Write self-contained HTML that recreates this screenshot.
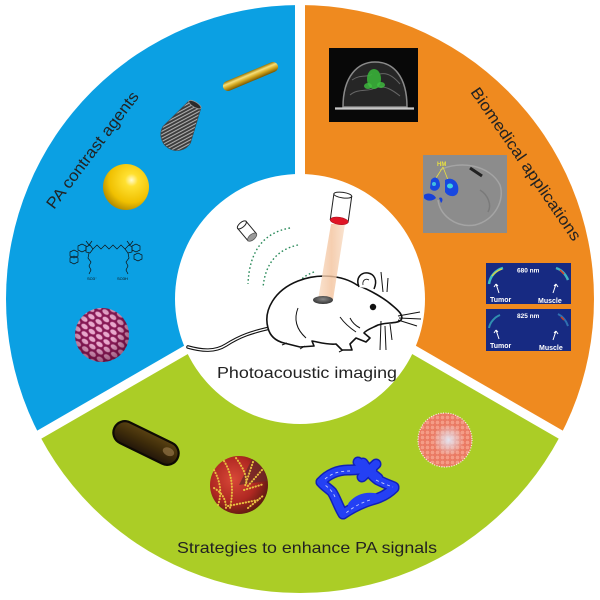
<!DOCTYPE html>
<html><head><meta charset="utf-8"><style>
html,body{margin:0;padding:0;background:#fff;}
svg{display:block;}
text{font-family:"Liberation Sans",Arial,sans-serif;}
</style></head><body>
<svg width="600" height="600" viewBox="0 0 600 600" xmlns="http://www.w3.org/2000/svg">
<defs>
<clipPath id="outer"><circle cx="300" cy="299" r="294"/></clipPath>
<linearGradient id="goldrod" x1="0" y1="0" x2="0" y2="1">
<stop offset="0" stop-color="#9a7500"/><stop offset="0.3" stop-color="#f6e07a"/><stop offset="0.6" stop-color="#d4a820"/><stop offset="1" stop-color="#7a5800"/>
</linearGradient>
<radialGradient id="ysph" cx="0.62" cy="0.35" r="0.7">
<stop offset="0" stop-color="#fffbd0"/><stop offset="0.2" stop-color="#ffe030"/><stop offset="0.7" stop-color="#f0c000"/><stop offset="1" stop-color="#b08800"/>
</radialGradient>
<pattern id="stripes" patternUnits="userSpaceOnUse" width="3" height="3" patternTransform="rotate(31)">
<rect width="3" height="3" fill="#3a3a3a"/><line x1="1.2" y1="0" x2="1.2" y2="3" stroke="#c8c8c8" stroke-width="0.9"/>
</pattern>
<pattern id="rasp" patternUnits="userSpaceOnUse" width="9" height="12" patternTransform="rotate(35)">
<rect width="9" height="12" fill="#861a55"/>
<ellipse cx="4.5" cy="3" rx="3.9" ry="2.5" fill="#e8a8cc" stroke="#9a2a68" stroke-width="0.6"/>
<ellipse cx="0" cy="9" rx="3.9" ry="2.5" fill="#e8a8cc" stroke="#9a2a68" stroke-width="0.6"/>
<ellipse cx="9" cy="9" rx="3.9" ry="2.5" fill="#e8a8cc" stroke="#9a2a68" stroke-width="0.6"/>
</pattern>
<radialGradient id="shade" cx="0.45" cy="0.4" r="0.6">
<stop offset="0.5" stop-color="#400020" stop-opacity="0"/><stop offset="1" stop-color="#400020" stop-opacity="0.45"/>
</radialGradient>
<linearGradient id="brown" x1="0" y1="0" x2="0" y2="1">
<stop offset="0" stop-color="#5a4212"/><stop offset="0.5" stop-color="#3e2c0a"/><stop offset="1" stop-color="#22160a"/>
</linearGradient>
<radialGradient id="redg" cx="0.4" cy="0.4" r="0.65">
<stop offset="0" stop-color="#d84838"/><stop offset="0.6" stop-color="#b02822"/><stop offset="1" stop-color="#5a1a10"/>
</radialGradient>
<pattern id="pinkp" patternUnits="userSpaceOnUse" width="5" height="5">
<rect width="5" height="5" fill="#ec7a62"/><circle cx="2.5" cy="2.5" r="2.2" fill="#f59c86" stroke="#e06a55" stroke-width="0.4"/>
</pattern>
<radialGradient id="pinkhl" cx="0.55" cy="0.5" r="0.5">
<stop offset="0" stop-color="#e4e4f0" stop-opacity="1"/><stop offset="0.5" stop-color="#e4e4f0" stop-opacity="0.5"/><stop offset="1" stop-color="#e4e4f0" stop-opacity="0"/>
</radialGradient>
<linearGradient id="beam" x1="0" y1="0" x2="1" y2="0">
<stop offset="0" stop-color="#f8dcc4"/><stop offset="0.5" stop-color="#f3c29c"/><stop offset="1" stop-color="#f8dcc4"/>
</linearGradient>
<radialGradient id="hole" cx="0.5" cy="0.4" r="0.6">
<stop offset="0" stop-color="#888"/><stop offset="1" stop-color="#333"/>
</radialGradient>
</defs>

<rect width="600" height="600" fill="#fff"/>
<g clip-path="url(#outer)">
<polygon points="300,-10 300,284 -60,492 -10,-10" fill="#0ba0e3"/>
<polygon points="300,-10 610,-10 660,492 300,284" fill="#ef8a1f"/>
<polygon points="300,284 660,492 610,610 -10,610 -60,492" fill="#abcd26"/>
</g>
<g stroke="#fff" stroke-width="9">
<line x1="300" y1="0" x2="300" y2="300" stroke-width="10"/>
<line x1="300" y1="284" x2="-60" y2="492"/>
<line x1="300" y1="284" x2="660" y2="492"/>
</g>
<circle cx="300" cy="299" r="125" fill="#fff"/>

<!-- Section labels -->
<text x="54" y="210" font-size="16" fill="#222" transform="rotate(-53 54 210)" textLength="142" lengthAdjust="spacingAndGlyphs">PA contrast agents</text>
<text x="470" y="92" font-size="16" fill="#222" transform="rotate(55.5 470 92)" textLength="182" lengthAdjust="spacingAndGlyphs">Biomedical applications</text>
<text x="217" y="378" font-size="16" fill="#222" textLength="180" lengthAdjust="spacingAndGlyphs">Photoacoustic imaging</text>
<text x="177" y="553" font-size="16" fill="#222" textLength="260" lengthAdjust="spacingAndGlyphs">Strategies to enhance PA signals</text>

<!-- Blue sector items -->
<g transform="translate(250.5,76.5) rotate(-22.9)">
<rect x="-29.5" y="-5" width="59" height="10" rx="5" fill="url(#goldrod)"/>
</g>
<g transform="translate(182,126) rotate(31)">
<path d="M-7,-25 L-16,10 A16,16 0 0 0 16,10 L7,-25 Z" fill="url(#stripes)" stroke="#444" stroke-width="0.6"/>
<ellipse cx="0" cy="-25" rx="7" ry="2.6" fill="#2a2a2a" stroke="#999" stroke-width="0.8"/>
</g>
<circle cx="126" cy="187" r="23" fill="url(#ysph)"/>

<g fill="none" stroke="#111" stroke-width="0.7">
<polygon points="70,252 74,250 78,252 78,256 74,258 70,256"/>
<polygon points="70,260 74,258 78,260 78,264 74,266 70,264" transform="translate(0,-2)"/>
<polygon points="78,252 82,250 86,252 86,256 82,258 78,256" transform="translate(0,-6)"/>
<polygon points="86,247 90,245 93,249 90,253 86,252"/>
<polyline points="93,249 97,245 101,249 105,245 109,249 113,245 117,249 121,245 125,249"/>
<polygon points="125,249 129,245 132,247 132,252 128,253"/>
<polygon points="132,246 136,244 140,246 140,250 136,252 132,250"/>
<polygon points="136,252 140,250 144,252 144,256 140,258 136,256" transform="translate(-2,3)"/>
<polyline points="89,253 88,258 91,262 89,266 91,270 89,274"/>
<polyline points="128,253 129,258 126,262 128,266 126,270 128,274"/>
<line x1="89" y1="245" x2="86" y2="241"/><line x1="89" y1="245" x2="92" y2="241"/>
<line x1="130" y1="245" x2="127" y2="241"/><line x1="130" y1="245" x2="133" y2="241"/>
</g>
<text x="87" y="280" font-size="4" fill="#111">SO3⁻</text>
<text x="117" y="280" font-size="4" fill="#111">SO3H</text>

<circle cx="102" cy="335" r="27" fill="url(#rasp)"/>
<circle cx="102" cy="335" r="27" fill="url(#shade)"/>

<!-- Orange sector images -->
<rect x="329" y="48" width="89" height="74" fill="#080808"/>
<path d="M343,107 C343,76 358,62 375,62 C393,62 407,76 407,107 Z" fill="#262626" stroke="#8a8a8a" stroke-width="1.5"/>
<path d="M350,95 C358,88 368,92 375,88 C385,84 395,92 400,96 M352,80 C360,74 368,78 372,74 M380,74 C388,72 395,78 400,84" fill="none" stroke="#666" stroke-width="1"/>
<ellipse cx="374" cy="79" rx="7" ry="10" fill="#38b038" opacity="0.9"/>
<ellipse cx="368" cy="86" rx="4" ry="3" fill="#40c040" opacity="0.8"/>
<ellipse cx="381" cy="85" rx="4" ry="3" fill="#40c040" opacity="0.8"/>
<line x1="335" y1="108.5" x2="414" y2="108.5" stroke="#c8c8c8" stroke-width="2.2"/>

<rect x="423" y="155" width="84" height="78" fill="#8c8c8c"/>
<path d="M440,170 C460,160 490,165 500,185 C505,200 495,220 475,225 C455,228 440,215 438,200" fill="none" stroke="#a4a4a4" stroke-width="1.5"/>
<path d="M470,168 L482,176" stroke="#222" stroke-width="3"/>
<path d="M480,190 C488,195 492,205 488,212" fill="none" stroke="#7a7a7a" stroke-width="1.5"/>
<text x="437" y="166" font-size="6" fill="#e8e040" font-weight="bold">HM</text>
<path d="M443,167 L436,178 M443,167 L448,180" stroke="#e8e040" stroke-width="0.8" fill="none"/>
<path d="M431,180 C435,175 440,178 440,186 C438,192 432,192 430,188 Z" fill="#1848e0"/>
<path d="M445,180 C452,176 460,182 458,192 C456,198 448,197 445,192 Z" fill="#1848e0"/>
<path d="M424,195 C428,192 434,194 436,198 C432,202 426,201 424,198 Z" fill="#1840d8"/>
<path d="M439,198 C442,196 444,200 441,203 Z" fill="#1840d8"/>
<ellipse cx="450" cy="186" rx="3" ry="2.5" fill="#40d0e0"/>
<ellipse cx="434" cy="184" rx="2" ry="2" fill="#40c0e0"/>

<rect x="486" y="263" width="85" height="41" fill="#172a82"/>
<rect x="486" y="309" width="85" height="42" fill="#172a82"/>
<path d="M489,284 C490,276 496,270 503,268" fill="none" stroke="#40c0c0" stroke-width="2.5"/>
<path d="M492,276 C495,272 499,270 502,269" fill="none" stroke="#e0d040" stroke-width="1.2"/>
<path d="M556,268 C562,270 566,275 568,280" fill="none" stroke="#40b0c0" stroke-width="2.5"/>
<path d="M560,270 L564,274" stroke="#e04020" stroke-width="1.5"/>
<path d="M489,328 C490,322 495,317 500,315" fill="none" stroke="#3090b0" stroke-width="2"/>
<path d="M558,314 C562,316 566,320 568,326" fill="none" stroke="#3070b0" stroke-width="2"/>
<path d="M561,317 L564,320" stroke="#d04020" stroke-width="1.5"/>
<g fill="#fff" font-weight="bold">
<text x="517" y="272.5" font-size="6.5">680 nm</text>
<text x="490" y="302" font-size="7">Tumor</text>
<text x="538" y="303" font-size="7">Muscle</text>
<text x="517" y="318" font-size="6.5">825 nm</text>
<text x="490" y="348" font-size="7">Tumor</text>
<text x="539" y="350" font-size="7">Muscle</text>
</g>
<g stroke="#fff" stroke-width="1" fill="none">
<path d="M499,293 L496,284 M496,284 L494,287 M496,284 L498,286"/>
<path d="M553,293 L556,284 M556,284 L554,286 M556,284 L558,287"/>
<path d="M499,339 L496,330 M496,330 L494,333 M496,330 L498,332"/>
<path d="M553,340 L556,331 M556,331 L554,333 M556,331 L558,334"/>
</g>

<!-- Green sector items -->
<g transform="translate(146,443) rotate(26)">
<rect x="-35" y="-11.5" width="70" height="23" rx="11.5" fill="url(#brown)" stroke="#0e0a04" stroke-width="2.2"/>
<ellipse cx="24" cy="-2" rx="6" ry="4" fill="#a08050" opacity="0.6"/>
</g>

<circle cx="239" cy="485" r="29" fill="url(#redg)"/>
<path d="M239,485 L252,459 A29,29 0 0 1 267,481 Z" fill="#6a2a28" opacity="0.75"/>
<g fill="none" stroke="#e8c040" stroke-width="2" stroke-dasharray="0.4 2.6" stroke-linecap="round">
<path d="M214,470 Q224,488 218,505"/>
<path d="M224,461 Q236,480 230,508"/>
<path d="M236,458 Q248,474 246,485"/>
<path d="M228,506 L258,500"/>
<path d="M244,490 L264,484"/>
<path d="M253,462 L245,486"/>
<path d="M262,470 L247,487"/>
<path d="M214,488 Q226,495 226,508"/>
<path d="M248,508 L264,495"/>
</g>

<g fill="none" stroke="#1020b8" stroke-width="11" stroke-linejoin="round" stroke-linecap="round">
<path d="M321,482 C328,474 338,470 348,470 C358,470 366,468 372,470"/>
<path d="M363,463 C368,470 372,476 378,480 C386,484 392,486 394,487"/>
<path d="M394,488 C388,494 380,498 372,500 C362,503 352,508 343,514"/>
<path d="M343,514 C338,506 336,498 332,492 C328,488 324,486 321,482"/>
<path d="M358,462 L378,478 M376,464 L362,477"/>
</g>
<g fill="none" stroke="#2440f4" stroke-width="8" stroke-linejoin="round" stroke-linecap="round">
<path d="M321,482 C328,474 338,470 348,470 C358,470 366,468 372,470"/>
<path d="M363,463 C368,470 372,476 378,480 C386,484 392,486 394,487"/>
<path d="M394,488 C388,494 380,498 372,500 C362,503 352,508 343,514"/>
<path d="M343,514 C338,506 336,498 332,492 C328,488 324,486 321,482"/>
<path d="M358,462 L378,478 M376,464 L362,477"/>
<path d="M352,505 C358,498 366,496 374,497"/>
</g>
<g fill="none" stroke="#c8d0ff" stroke-width="0.9" stroke-dasharray="3 3">
<path d="M325,479 C332,473 340,471 350,471"/>
<path d="M376,480 C384,484 390,486 393,487"/>
<path d="M370,500 C360,503 352,508 346,513"/>
<path d="M335,497 C333,492 329,488 325,485"/>
</g>

<circle cx="445" cy="440" r="27" fill="url(#pinkp)"/>
<circle cx="447" cy="440" r="16" fill="url(#pinkhl)"/>
<circle cx="445" cy="440" r="27" fill="none" stroke="#fff" stroke-width="1.2" stroke-dasharray="1 1.5" opacity="0.85"/>

<!-- Center mouse scene -->
<g transform="translate(247,231) rotate(50)">
<rect x="-8" y="-5.5" width="16" height="11" fill="#fff" stroke="#222" stroke-width="1"/>
<ellipse cx="-8" cy="0" rx="2.5" ry="5.5" fill="#fff" stroke="#222" stroke-width="1"/>
<ellipse cx="8" cy="0" rx="2.8" ry="5.5" fill="#9a9a9a" stroke="#555" stroke-width="0.8"/>
</g>
<g fill="none" stroke="#2a8a5a" stroke-width="1.4" stroke-dasharray="1.6 2.4">
<path d="M290,228 Q250,235 248,284"/>
<path d="M298,245 Q266,252 263,288"/>
<path d="M314,272 Q294,279 292,300"/>
</g>

<!-- tail -->
<path d="M270,328 C252,332 240,336 226,345 C215,352 202,351 188,347" fill="none" stroke="#111" stroke-width="3.6" stroke-linecap="round"/>
<path d="M270,328 C252,332 240,336 226,345 C215,352 202,351 188,347" fill="none" stroke="#fff" stroke-width="1.4" stroke-linecap="round"/>
<!-- body -->
<path d="M268,328 C263,310 275,290 298,281 C318,273 342,275 357,285 C370,290 384,298 393,306 C399,311 404,316 401,320 C397,324 387,322 378,325 C372,328 366,330 364,333 L370,338 L366,342 L356,338 L350,344 L352,350 L342,350 L336,344 C328,345 318,342 312,341 L314,346 L300,347 L284,343 C276,341 270,336 268,328 Z" fill="#fff" stroke="#111" stroke-width="1.6" stroke-linejoin="round"/>
<path d="M359,287 C355,277 362,272 368,273 C374,274 378,280 374,289" fill="#fff" stroke="#111" stroke-width="1.5"/>
<path d="M363,285 C362,280 366,278 369,280" fill="none" stroke="#111" stroke-width="0.8"/>
<circle cx="373" cy="307" r="3.2" fill="#111"/>
<g fill="none" stroke="#111" stroke-width="1">
<path d="M298,308 C294,318 295,328 306,338"/>
<path d="M340,317 C345,324 350,328 356,332"/>
<path d="M350,318 C352,322 356,326 360,328"/>
<path d="M398,316 L420,312 M399,318 L421,319 M398,320 L417,326"/>
<path d="M381,321 L380,350 M385,326 L386,350 M390,324 L392,340"/>
<path d="M381,272 L383,292 M388,278 L387,292"/>
<path d="M287,343 L282,345 M305,346 L300,349 M343,350 L339,352"/>
</g>
<!-- beam, laser, hole -->
<polygon points="331,224 345,224 333,300 318,300" fill="url(#beam)" opacity="0.8"/>
<ellipse cx="323" cy="300" rx="10" ry="4" fill="url(#hole)"/>
<g transform="translate(341,208) rotate(8)">
<rect x="-9" y="-13" width="18" height="26" fill="#fff" stroke="#222" stroke-width="1"/>
<ellipse cx="0" cy="-13" rx="9" ry="2.8" fill="#fff" stroke="#222" stroke-width="1"/>
<ellipse cx="0" cy="13" rx="9" ry="3.6" fill="#e01525" stroke="#b01020" stroke-width="0.6"/>
</g>
</svg>
</body></html>
